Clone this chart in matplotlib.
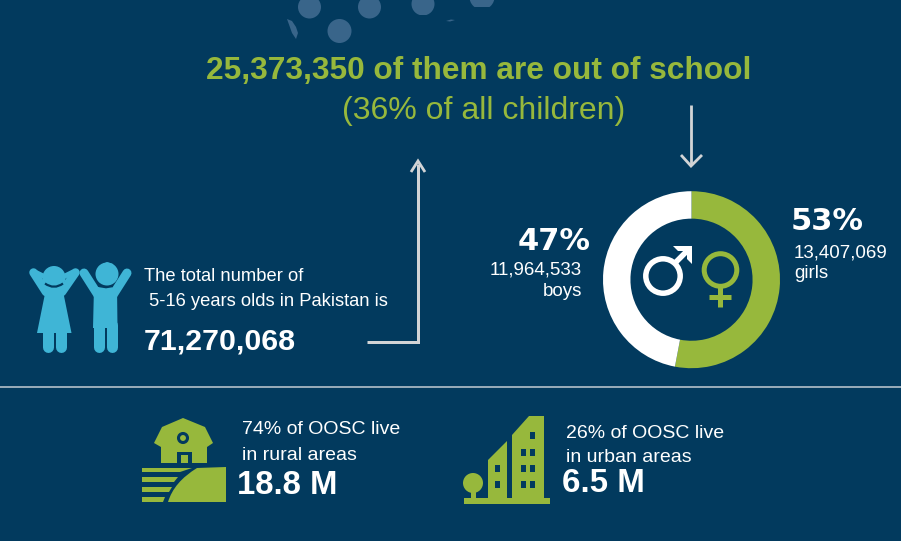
import matplotlib
matplotlib.use("Agg")
import matplotlib.pyplot as plt
from matplotlib.patches import Circle, Polygon, PathPatch, Rectangle
from matplotlib.path import Path

W, H = 901, 541
BG = "#023a5e"
GREEN = "#97b83c"
BLUE = "#3fb5d6"
WHITE = "#ffffff"
GREY = "#d2d4d6"
DOT = "#39658a"
SANS = ["Liberation Sans", "DejaVu Sans"]

gender_labels = ["girls", "boys"]
gender_pct = [53, 47]
gender_counts = ["13,407,069", "11,964,533"]
headline = "25,373,350 of them are out of school"
subhead = "(36% of all children)"
total_children = "71,270,068"
rural = ["74% of OOSC live", "in rural areas", "18.8 M"]
urban = ["26% of OOSC live", "in urban areas", "6.5 M"]

fig = plt.figure(figsize=(W / 100, H / 100), dpi=100, facecolor=BG)
ax = fig.add_axes([0, 0, 1, 1])
ax.set_xlim(0, W)
ax.set_ylim(H, 0)
ax.axis("off")


def txt(x, y, s, size, color=WHITE, weight="normal", ha="left", family=SANS):
    ax.text(x, y + 2, s, fontsize=size, color=color, fontweight=weight, ha=ha,
            va="center", family=family)


def poly(points, color=GREEN, z=3):
    ax.add_patch(Polygon(points, closed=True, fc=color, ec="none", zorder=z))


def stroke(xs, ys, color, width, cap="round", z=3):
    ax.plot(xs, ys, color=color, lw=width * 0.72, solid_capstyle=cap,
            solid_joinstyle="miter", zorder=z)


# Faded dots at the top
for cx, cy, r in [(309.5, 7, 11.5), (369.5, 7, 11.5), (339.5, 31, 12)]:
    ax.add_patch(Circle((cx, cy), r, fc=DOT, ec="none", zorder=1))
clip_a = Rectangle((405, 0), 40, 14.5, transform=ax.transData)
c = Circle((423, 4), 11.5, fc=DOT, ec="none", zorder=1)
ax.add_patch(c)
c.set_clip_path(clip_a)
clip_b = Rectangle((465, 0), 40, 6.5, transform=ax.transData)
c = Circle((482, -3), 12.5, fc=DOT, ec="none", zorder=1)
ax.add_patch(c)
c.set_clip_path(clip_b)
poly([(287, 19), (292, 21), (296, 27), (298, 33), (296, 39), (292, 33)], DOT, 1)
poly([(446, 21), (451, 19.5), (455, 20), (450, 21.5)], DOT, 1)

# Headline
txt(479, 69, headline, 22.8, GREEN, "bold", "center")
txt(483.5, 109, subhead, 23, GREEN, "normal", "center")

# Arrows
stroke([367, 418, 418], [342, 342, 164], GREY, 3, "butt")
stroke([411, 418, 425], [172, 161, 172], GREY, 2.8, "butt")
stroke([691, 691], [105, 165], GREY, 2.8, "butt")
stroke([681, 691, 702], [155, 166, 155], GREY, 2.8, "butt")

# Separator
ax.plot([0, W], [387, 387], color="#c4ccd3", lw=1.1, zorder=2)

# Donut
cx, cy, R = 691.5, 279.7, 88.5
dax = fig.add_axes([(cx - R) / W, 1 - (cy + R) / H, 2 * R / W, 2 * R / H])
dax.pie(gender_pct, colors=[GREEN, WHITE], startangle=90, counterclock=False,
        radius=1, wedgeprops=dict(width=0.31, edgecolor="none"))
dax.set_xlim(-1, 1)
dax.set_ylim(-1, 1)
dax.set_aspect("equal")
dax.axis("off")
dax.patch.set_alpha(0)

# Gender symbols drawn on a top overlay
oax = fig.add_axes([0, 0, 1, 1])
oax.set_xlim(0, W)
oax.set_ylim(H, 0)
oax.axis("off")
oax.patch.set_alpha(0)
oax.add_patch(Circle((663, 276), 17.2, fc="none", ec=WHITE, lw=5.5 * 0.72))
oax.plot([675, 688], [263, 250], color=WHITE, lw=5.5 * 0.72, solid_capstyle="butt")
oax.add_patch(Polygon([(673, 246), (692, 246), (692, 264), (687, 259), (687, 251), (678, 251)],
                      closed=True, fc=WHITE, ec="none"))
oax.add_patch(Circle((720.5, 270), 16.3, fc="none", ec=GREEN, lw=5 * 0.72))
oax.plot([720, 720], [287, 307], color=GREEN, lw=5 * 0.72, solid_capstyle="butt")
oax.plot([709, 730.5], [297, 297], color=GREEN, lw=5 * 0.72, solid_capstyle="butt")

# Donut labels
txt(554, 239, f"{gender_pct[1]}%", 22, WHITE, "bold", "center", ["DejaVu Sans"])
txt(582, 268, gender_counts[1], 13.5, WHITE, ha="right")
txt(582, 290, gender_labels[1], 13.5, WHITE, ha="right")
txt(827, 219, f"{gender_pct[0]}%", 22, WHITE, "bold", "center", ["DejaVu Sans"])
txt(794, 251, gender_counts[0], 13.5, WHITE)
txt(794, 272, gender_labels[0], 13.5, WHITE)

# Children icons: girl
ax.add_patch(Circle((54, 277.5), 11.5, fc=BLUE, ec="none", zorder=3))
stroke([33.5, 46], [272.5, 292], BLUE, 8.5)
stroke([75.5, 62], [272.5, 292], BLUE, 8.5)
stroke([35, 45], [272, 277], BLUE, 5)
stroke([73, 63], [272, 277], BLUE, 5)
poly([(45, 284), (63, 284), (64, 296), (71.5, 333), (37, 333), (44.5, 296)], BLUE)
ax.add_patch(PathPatch(Path([(45, 283.5), (54, 290), (63, 283.5)],
                            [Path.MOVETO, Path.CURVE3, Path.CURVE3]),
                       fc="none", ec=BG, lw=1.6, zorder=4))
stroke([47.5, 47.5], [330, 347], BLUE, 11)
stroke([60.5, 60.5], [330, 347], BLUE, 11)

# Children icons: boy
ax.add_patch(Circle((107, 274), 11.5, fc=BLUE, ec="none", zorder=3))
poly([(101, 265), (107, 262), (113, 264), (114, 268), (110, 270)], BLUE)
stroke([84, 98], [273, 295], BLUE, 9)
stroke([127, 113], [273, 295], BLUE, 9)
poly([(94, 287), (117, 287), (117.5, 328), (93, 328)], BLUE)
ax.plot([100, 106, 112], [286.5, 287.5, 286.5], color=BG, lw=1.2, zorder=4)
stroke([98.5, 98.5], [325, 347], BLUE, 11)
stroke([112, 112], [325, 347], BLUE, 11)

# Total text
txt(144, 274.5, "The total number of", 13.2)
txt(144, 299, " 5-16 years olds in Pakistan is", 13.2)
txt(144, 339, total_children, 21.9, WHITE, "bold")

# Barn icon
poly([(183, 418), (205, 427), (213, 443), (207, 447), (207, 463), (161, 463),
      (161, 447), (154, 443), (162, 427)])
ax.add_patch(Circle((183, 438), 4.5, fc="none", ec=BG, lw=2.2, zorder=4))
poly([(177, 452), (192, 452), (192, 463), (177, 463)], BG, 4)
poly([(181, 455), (188, 455), (188, 463), (181, 463)], GREEN, 5)
verts = [(168, 502), (174, 482), (197, 468), (226, 467), (226, 502), (168, 502)]
codes = [Path.MOVETO, Path.CURVE3, Path.CURVE3, Path.LINETO, Path.LINETO, Path.CLOSEPOLY]
ax.add_patch(PathPatch(Path(verts, codes), fc=GREEN, ec="none", zorder=3))
poly([(142, 468), (192, 468), (180, 472), (142, 472)])
poly([(142, 477), (178, 477), (174, 482), (142, 482)])
poly([(142, 487), (172, 487), (169, 492), (142, 492)])
poly([(142, 497), (165, 497), (163, 502), (142, 502)])

txt(242, 428, rural[0], 14)
txt(242, 453, rural[1], 14)
txt(237, 484, rural[2], 23.7, WHITE, "bold")

# City icon
poly([(464, 498), (550, 498), (550, 504), (464, 504)])
ax.add_patch(Circle((473, 483), 10, fc=GREEN, ec="none", zorder=3))
poly([(471, 490), (476, 490), (476, 498), (471, 498)])
poly([(488, 460), (507, 441), (507, 498), (488, 498)])
poly([(512, 435), (529, 416), (544, 416), (544, 498), (512, 498)])
for wx, wy in [(495, 465), (495, 481), (530, 432), (521, 449), (530, 449),
               (521, 465), (530, 465), (521, 481), (530, 481)]:
    ax.add_patch(Rectangle((wx, wy), 5, 7, fc=BG, ec="none", zorder=4))

txt(566, 431, urban[0], 14)
txt(566, 455, urban[1], 14)
txt(562, 482, urban[2], 23.9, WHITE, "bold")

fig.savefig("out.png", dpi=100, facecolor=BG)
